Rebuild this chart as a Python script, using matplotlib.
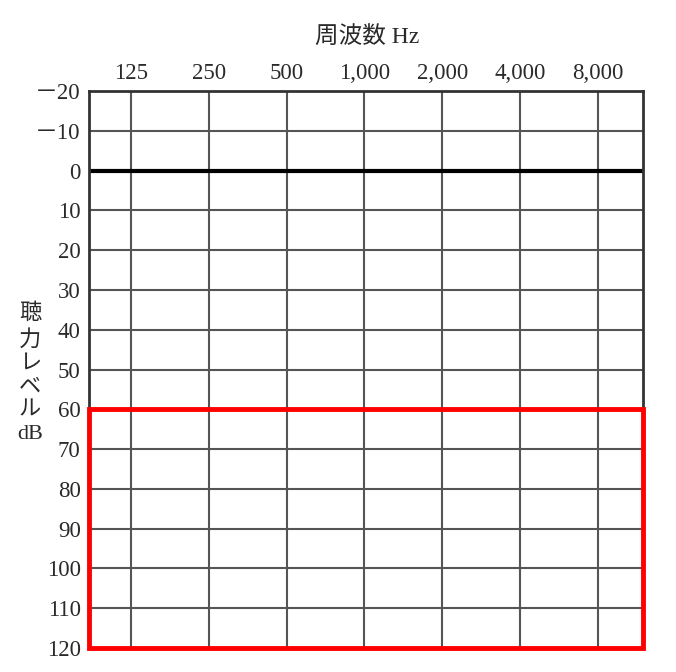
import matplotlib
matplotlib.use("Agg")
import matplotlib.pyplot as plt
from matplotlib.patches import Rectangle

# data
freqs = ["125", "250", "500", "1,000", "2,000", "4,000", "8,000"]
levels = [-20, -10, 0, 10, 20, 30, 40, 50, 60, 70, 80, 90, 100, 110, 120]
level_labels = ["－20", "－10"] + [str(v) for v in levels[2:]]
zone_low, zone_high = 60, 120

plt.rcParams['font.family'] = ['Liberation Serif', 'Noto Sans CJK JP', 'DejaVu Sans']

fig = plt.figure(figsize=(6.76, 6.72), dpi=100)
ax = fig.add_axes([89 / 676, 1 - 648 / 672, (643 - 89) / 676, (648 - 91) / 672])

pos = list(range(len(freqs)))
ax.set_xlim(-0.54, len(freqs) - 1 + 0.58)
ax.set_ylim(levels[-1], levels[0])

grid_col = "#555555"
for p in pos:
    ax.axvline(p, color=grid_col, lw=1.5, zorder=1)
for v in levels[1:-1]:
    ax.axhline(v, color=grid_col, lw=1.5, zorder=1)
ax.axhline(0, color="black", lw=3, zorder=2)

for s in ax.spines.values():
    s.set_color("#333333")
    s.set_linewidth(2)

# 60-120 dB zone
x0, x1 = ax.get_xlim()
ax.add_patch(Rectangle((x0, zone_low), x1 - x0, zone_high - zone_low,
                       fill=False, edgecolor="#ff0000", lw=3.5, zorder=5,
                       clip_on=False))

txt_col = "#2a2a2a"
ax.xaxis.tick_top()
ax.set_xticks(pos)
ax.set_xticklabels(freqs, fontsize=16.5, color=txt_col)
ax.set_yticks(levels)
ax.set_yticklabels(level_labels, fontsize=16.5, color=txt_col)
ax.tick_params(length=0, pad=6)
ax.tick_params(axis="x", pad=5)

fig.text(367 / 676, 1 - 38 / 672, "周波数 Hz", ha="center", va="center",
         fontsize=17, color=txt_col)
fig.text(30 / 676, 1 - 374 / 672, "聴\n力\nレ\nベ\nル\ndB", ha="center",
         va="center", fontsize=16, color=txt_col, linespacing=1.32)

fig.savefig("out.png", dpi=100, facecolor="white")
